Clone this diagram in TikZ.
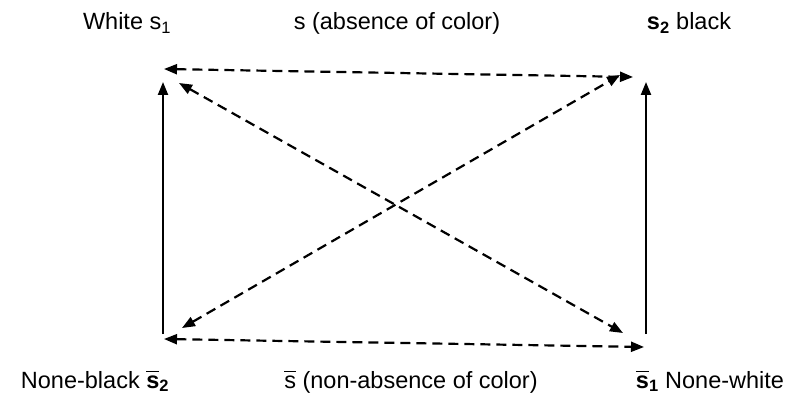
\documentclass[tikz,border=0pt]{standalone}
\usepackage{fontspec}
\setmainfont{Liberation Sans}
\usetikzlibrary{arrows.meta}
\newsavebox{\sbarbox}
\newcommand{\sbar}[1]{\sbox{\sbarbox}{#1}\rlap{\rule[0.66em]{\wd\sbarbox}{0.08em}}\usebox{\sbarbox}}
\begin{document}
\begin{tikzpicture}[x=1pt,y=-1pt,
  lbl/.style={anchor=base,inner sep=0pt,font=\fontsize{23.5}{27}\selectfont},
  tip/.style={-{Triangle[length=13pt,width=10pt]}},
  dtip/.style={{Triangle[length=13pt,width=10pt]}-{Triangle[length=13pt,width=10pt]}},
  dashline/.style={line width=2.2pt,dash pattern=on 10pt off 6pt},
  solidline/.style={line width=2.2pt}]
\useasboundingbox (0,0) rectangle (790,393);
% labels
\node[lbl] (tl) at (127,30) {White s\textsubscript{1}};
\node[lbl] (tc) at (397,30) {s (absence of color)};
\node[lbl] (tr) at (689,30) {\textbf{s\textsubscript{2}} black};
\node[lbl] (bl) at (95,388) {None-black \textbf{\sbar{s}\textsubscript{2}}};
\node[lbl] (bc) at (411,388) {\sbar{s} (non-absence of color)};
\node[lbl] (br) at (710,388) {\textbf{\sbar{s}\textsubscript{1}} None-white};
% corner points
\coordinate (htl) at (164,69);
\coordinate (htr) at (633,77);
\coordinate (hbl) at (164,339);
\coordinate (hbr) at (644,347);
\coordinate (vlt) at (163,82);
\coordinate (vlb) at (163,334);
\coordinate (vrt) at (646,82);
\coordinate (vrb) at (646,334);
\coordinate (d1a) at (179,83);
\coordinate (d1b) at (623,333);
\coordinate (d2a) at (620,75);
\coordinate (d2b) at (182,328);
% connectors
\draw[dashline,dtip] (htl) -- (htr);
\draw[dashline,dtip] (hbl) -- (hbr);
\draw[solidline,tip] (vlb) -- (vlt);
\draw[solidline,tip] (vrb) -- (vrt);
\draw[dashline,dtip] (d1a) -- (d1b);
\draw[dashline,dtip] (d2b) -- (d2a);
\end{tikzpicture}
\end{document}
